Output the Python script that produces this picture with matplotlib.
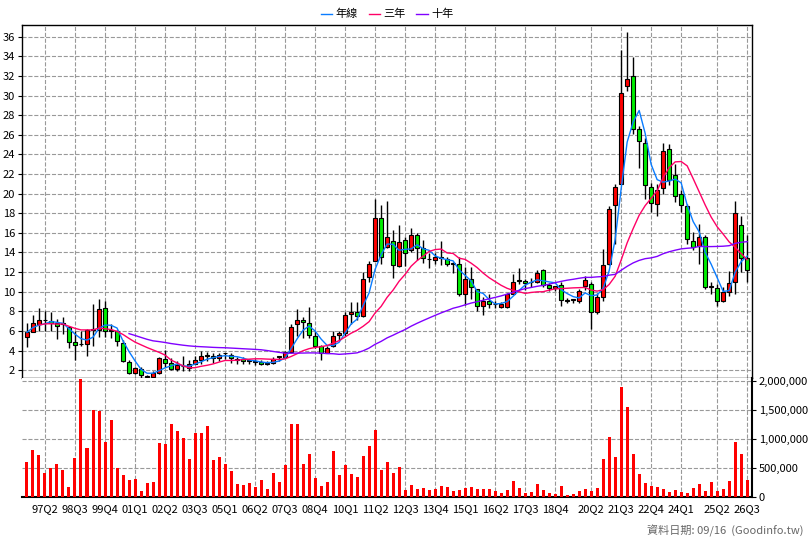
import numpy as np
import pandas as pd
import matplotlib
matplotlib.use("Agg")
import matplotlib.pyplot as plt

plt.rcParams['font.family'] = ['Noto Sans CJK TC', 'DejaVu Sans']

# quarterly candles: open, high, low, close
opens = [5.34, 5.86, 6.7, 7.1, 7.0, 6.8, 6.7, 6.4, 4.9, 4.65, 4.65, 6.1, 6.1, 8.3, 6.0, 6.0, 4.8, 2.85, 1.7, 2.15,
         1.3, 1.3, 1.7, 3.1, 2.75, 2.1, 2.4, 2.2, 2.65, 3.05, 3.45, 3.4, 3.2, 3.7, 3.55, 3.05, 3.1, 2.95, 2.85, 2.85,
         2.65, 2.7, 3.35, 3.35, 3.85, 6.7, 7.1, 6.8, 5.5, 4.45, 3.75, 4.45, 5.55, 5.8, 7.7, 7.95, 7.5, 11.45, 13.1, 17.55,
         14.6, 15.15, 12.65, 15.25, 14.3, 15.75, 14.5, 13.3, 13.2, 13.45, 13.3, 12.85, 12.8, 9.8, 11.25, 10.3, 8.5, 9.1, 8.7, 8.4,
         8.4, 9.8, 11.1, 11.05, 10.95, 11.0, 12.2, 10.65, 10.4, 10.7, 9.1, 9.15, 9.1, 10.6, 10.8, 7.95, 9.5, 12.85, 18.85, 21.0,
         31.0, 32.0, 26.6, 25.2, 20.65, 18.9, 20.55, 24.6, 21.9, 19.95, 18.7, 15.2, 14.7, 15.6, 10.5, 10.35, 9.1, 10.0, 11.0, 16.8,
         13.45]
closes = [5.86, 6.83, 7.1, 7.1, 6.8, 6.5, 6.7, 4.9, 4.6, 4.65, 6.1, 6.1, 8.2, 6.0, 6.0, 5.0, 2.9, 1.7, 2.2, 1.55,
          1.3, 1.7, 3.2, 2.75, 2.1, 2.5, 2.4, 2.6, 3.0, 3.4, 3.45, 3.2, 3.55, 3.7, 3.2, 3.05, 2.95, 2.95, 2.85, 2.6,
          2.65, 3.1, 3.35, 3.85, 6.45, 7.1, 6.9, 5.55, 4.45, 3.8, 4.3, 5.5, 5.75, 7.6, 7.95, 7.5, 11.25, 12.8, 17.55, 13.5,
          15.6, 12.7, 15.1, 13.9, 15.75, 14.45, 13.4, 13.3, 13.5, 13.45, 12.8, 12.85, 9.8, 11.25, 10.5, 8.5, 9.05, 8.75, 8.7, 8.7,
          9.8, 10.95, 11.1, 10.85, 10.95, 11.95, 10.7, 10.4, 10.6, 9.15, 9.1, 9.15, 10.05, 11.2, 7.95, 9.5, 12.7, 18.4, 20.7, 30.25,
          31.7, 26.6, 25.4, 20.9, 19.0, 20.4, 24.4, 21.35, 19.8, 18.85, 15.35, 14.6, 15.6, 10.5, 10.5, 9.1, 10.0, 10.85, 18.0, 13.45,
          12.2]
highs = [6.8, 7.6, 8.3, 8.0, 7.9, 7.2, 7.4, 6.4, 6.0, 6.0, 6.2, 8.7, 9.3, 9.1, 6.7, 6.1, 5.1, 3.0, 2.3, 2.3,
         1.5, 1.9, 3.3, 4.1, 3.2, 2.9, 3.4, 3.0, 3.4, 4.0, 3.9, 3.8, 3.8, 3.8, 3.8, 3.3, 3.3, 3.1, 3.1, 3.0,
         2.9, 3.3, 3.45, 3.95, 6.7, 8.2, 7.4, 8.4, 6.0, 4.6, 4.45, 6.0, 6.0, 7.9, 9.0, 9.0, 12.0, 13.1, 19.5, 18.8,
         19.3, 16.3, 16.8, 15.6, 16.5, 16.0, 15.3, 13.9, 13.9, 15.2, 13.5, 13.0, 13.5, 12.5, 12.5, 9.5, 9.5, 9.8, 9.1, 8.9,
         9.9, 11.8, 12.4, 11.25, 11.4, 12.2, 12.3, 10.9, 10.6, 10.95, 9.4, 9.3, 10.3, 11.6, 10.95, 9.9, 14.4, 18.7, 20.95, 34.6,
         36.5, 33.9, 26.9, 25.7, 21.05, 21.0, 25.2, 25.1, 23.0, 20.4, 18.9, 16.1, 16.9, 15.8, 10.95, 10.8, 10.45, 12.1, 19.3, 17.7,
         15.8]
lows = [4.4, 6.0, 6.0, 6.0, 6.0, 5.2, 5.7, 4.3, 3.0, 4.5, 3.45, 4.5, 5.35, 5.35, 5.3, 4.5, 2.8, 1.6, 1.6, 1.2,
        1.1, 1.2, 1.6, 2.3, 2.0, 1.9, 1.9, 1.9, 2.6, 2.6, 2.9, 2.7, 2.9, 3.1, 2.7, 2.6, 2.6, 2.6, 2.5, 2.5,
        2.5, 2.6, 2.9, 3.3, 3.8, 5.5, 5.3, 5.3, 4.3, 3.0, 3.7, 4.35, 5.1, 5.5, 6.7, 7.1, 7.4, 11.0, 13.1, 12.8,
        14.45, 11.4, 12.5, 12.6, 14.0, 13.2, 12.9, 12.4, 12.8, 12.7, 12.6, 11.9, 9.6, 8.6, 9.3, 8.0, 7.6, 8.3, 8.3, 8.3,
        8.3, 9.8, 10.8, 10.2, 10.5, 10.9, 10.5, 10.1, 10.1, 8.55, 8.8, 8.8, 8.8, 10.2, 6.2, 7.7, 9.1, 12.7, 14.9, 22.3,
        30.5, 26.1, 22.6, 19.5, 18.1, 17.7, 20.0, 20.9, 19.2, 18.1, 14.9, 14.3, 12.8, 10.3, 9.8, 8.55, 8.9, 9.6, 9.8, 12.0,
        11.0]
volumes = [603, 810, 724, 414, 500, 569, 471, 172, 672, 2034, 845, 1500, 1483, 948, 1328, 500, 379, 293, 310, 103,
           241, 259, 931, 914, 1259, 1138, 1017, 655, 1103, 1103, 1224, 638, 690, 569, 448, 224, 207, 241, 172, 293,
           138, 414, 259, 552, 1259, 1259, 569, 741, 328, 190, 259, 793, 379, 552, 397, 345, 707, 879, 1155, 466,
           603, 414, 517, 121, 207, 138, 155, 121, 138, 190, 172, 103, 121, 155, 172, 138, 138, 138, 103, 69,
           121, 276, 155, 69, 86, 224, 121, 69, 52, 190, 34, 52, 103, 138, 103, 155, 655, 1034, 690, 1897,
           1552, 741, 397, 241, 190, 172, 138, 86, 121, 86, 69, 155, 224, 103, 259, 103, 138, 276, 948, 741,
           293]
volumes = [v * 1000 for v in volumes]

tick_pos = [3, 8, 13, 18, 23, 28, 33, 38, 43, 48, 53, 58, 63, 68, 73, 78, 83, 88, 94, 99, 104, 109, 115, 120]
tick_labels = ['97Q2', '98Q3', '99Q4', '01Q1', '02Q2', '03Q3', '05Q1', '06Q2', '07Q3', '08Q4', '10Q1', '11Q2',
               '12Q3', '13Q4', '15Q1', '16Q2', '17Q3', '18Q4', '20Q2', '21Q3', '22Q4', '24Q1', '25Q2', '26Q3']

df = pd.DataFrame({'o': opens, 'h': highs, 'l': lows, 'c': closes, 'v': volumes})
x = np.arange(len(df))
ma1 = df['c'].rolling(4, min_periods=1).mean()
ma3 = df['c'].rolling(12, min_periods=1).mean()
ma10 = df['c'].rolling(40, min_periods=1).mean()
ma3[:2] = np.nan
ma10[:17] = np.nan

fig = plt.figure(figsize=(8.08, 5.4), dpi=100)
ax = fig.add_axes([22 / 808, 1 - 378 / 540, 730 / 808, 353 / 540])
axv = fig.add_axes([22 / 808, 1 - 497 / 540, 730 / 808, 119 / 540])

up = df['c'] >= df['o']
body_lo = np.minimum(df['o'], df['c'])
body_h = np.maximum((df['c'] - df['o']).abs(), 0.06)
colors = np.where(df['c'] > df['o'], '#ff0000', np.where(df['c'] < df['o'], '#00ee00', 'black'))
ax.vlines(x, df['l'], df['h'], color='black', lw=1, zorder=2)
ax.bar(x, body_h, bottom=body_lo, width=0.65, color=colors, edgecolor='black', lw=0.8, zorder=3)
ax.plot(x, ma1, color='#0a7cff', lw=1, zorder=4, label='年線')
ax.plot(x, ma3, color='#ff0066', lw=1, zorder=4, label='三年')
ax.plot(x, ma10, color='#8000ff', lw=1, zorder=4, label='十年')

ax.set_xlim(-0.83, 120.8)
ax.set_ylim(1.2, 37.2)
ax.set_yticks(range(2, 37, 2))
ax.set_xticks(tick_pos)
ax.tick_params(axis='x', labelbottom=False, length=0)
ax.tick_params(axis='y', labelsize=8, length=3, pad=2)
ax.grid(True, color='#999999', ls='--', lw=0.8)
ax.set_axisbelow(True)
for s in ax.spines.values():
    s.set_linewidth(1)
ax.legend(loc='lower center', bbox_to_anchor=(0.5, 1.0), ncol=3, frameon=False, fontsize=8,
          handlelength=1.0, columnspacing=1.0, handletextpad=0.3, borderaxespad=0.1)

axv.bar(x, df['v'], width=0.5, color='#ff0000', zorder=3)
axv.set_xlim(-0.83, 120.8)
axv.set_ylim(0, 2050000)
axv.set_yticks([0, 500000, 1000000, 1500000, 2000000])
axv.set_yticklabels(['0', '500,000', '1,000,000', '1,500,000', '2,000,000'])
axv.yaxis.tick_right()
axv.tick_params(axis='y', labelsize=8, length=3, pad=2)
axv.set_xticks(tick_pos)
axv.set_xticklabels(tick_labels)
axv.tick_params(axis='x', labelsize=8, length=0, pad=5)
axv.grid(True, color='#999999', ls='--', lw=0.8)
axv.set_axisbelow(True)
axv.spines['left'].set_visible(False)
axv.spines['top'].set_visible(False)
axv.spines['right'].set_linewidth(1.5)
axv.spines['bottom'].set_linewidth(1.5)

fig.text(0.995, 0.005, '資料日期: 09/16  (Goodinfo.tw)', ha='right', va='bottom', fontsize=8, color='#666666')

fig.savefig('out.png', dpi=100)
